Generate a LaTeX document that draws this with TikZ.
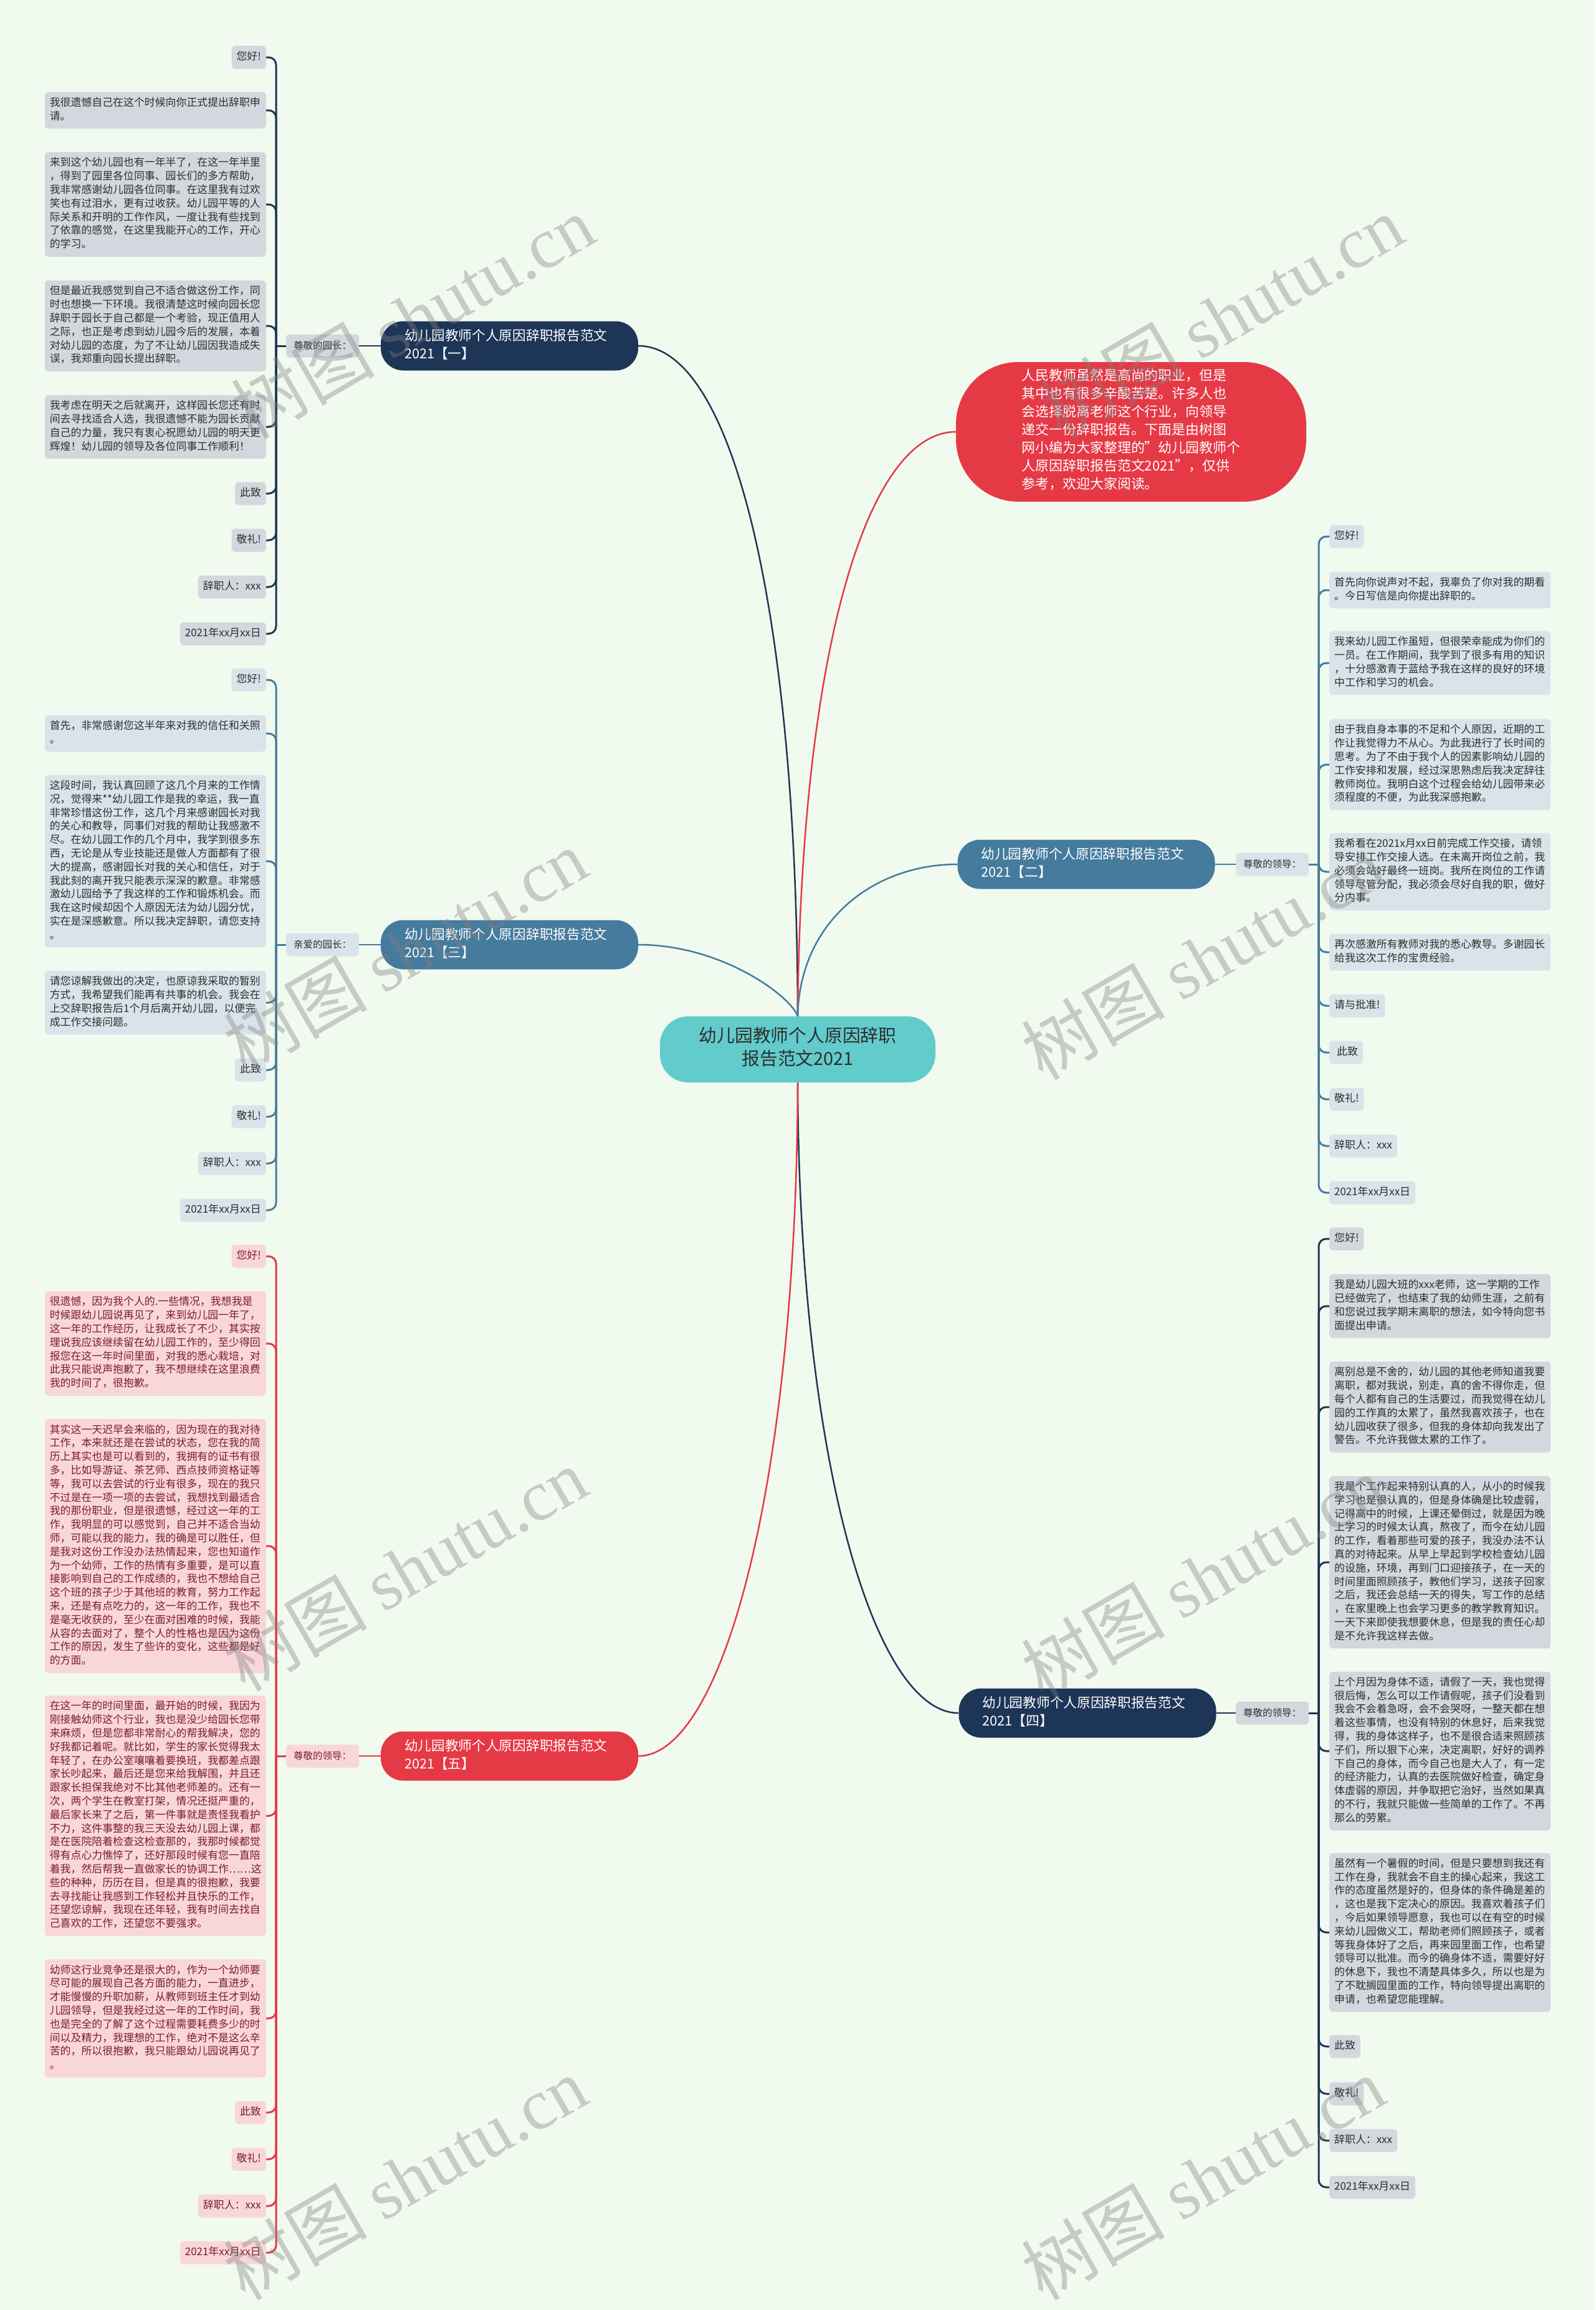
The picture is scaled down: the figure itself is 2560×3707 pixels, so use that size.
\documentclass[tikz,border=0pt]{standalone}
\usepackage{fontspec}
\setmainfont{Noto Sans CJK SC}
\newfontfamily\wmfont{Liberation Serif}
\definecolor{bgc}{HTML}{F1FAEE}
\definecolor{navy}{HTML}{1D3557}
\definecolor{steel}{HTML}{457B9D}
\definecolor{redc}{HTML}{E63946}
\definecolor{tealc}{HTML}{62CBCB}
\definecolor{leafgray}{HTML}{D3D8DF}
\definecolor{leafblue}{HTML}{D9E3EA}
\definecolor{leafpink}{HTML}{F9D6DA}
\definecolor{txt}{HTML}{2E2E2E}
\definecolor{maroonc}{HTML}{7A1E2A}
\begin{document}
\begin{tikzpicture}[x=1pt,y=-1pt,
 leaf/.style={rounded corners=6, inner xsep=8, inner ysep=7.6, align=left,
   font=\fontsize{16.9}{21.8}\selectfont, execute at begin node=\strut,
   execute at end node=\strut, text=txt},
 widebox/.style={text width=339},
 lleaf/.style={leaf, anchor=east},
 rleaf/.style={leaf, anchor=west},
 ga/.style={fill=leafgray},
 gb/.style={fill=leafblue},
 gp/.style={fill=leafpink, text=maroonc},
 spn/.style={draw=navy, line width=3, rounded corners=12},
 sps/.style={draw=steel, line width=3, rounded corners=12},
 spr/.style={draw=redc, line width=3, rounded corners=12},
 mainn/.style={draw=navy, line width=2.5},
 mains/.style={draw=steel, line width=2.5},
 mainr/.style={draw=redc, line width=2.5},
 brbox/.style={text=white, rounded corners=36, text width=337, inner xsep=38,
   inner ysep=10.5, align=left, font=\fontsize{21.7}{29}\selectfont,
   execute at begin node=\strut, execute at end node=\strut},
 labbox/.style={rounded corners=5, inner xsep=12, inner ysep=0, minimum height=37,
   font=\fontsize{15.5}{19}\selectfont, text=txt},
 centerbox/.style={fill=tealc, text=txt, rounded corners=45, minimum width=442,
   minimum height=106, align=center, inner sep=0,
   font=\fontsize{28.8}{37}\selectfont, execute at begin node=\strut,
   execute at end node=\strut},
 introbox/.style={fill=redc, text=white, rounded corners=100, minimum width=562,
   minimum height=224, align=left, inner sep=0,
   font=\fontsize{21.9}{29}\selectfont, execute at begin node=\strut,
   execute at end node=\strut},
 wm/.style={text=gray, text opacity=0.38, rotate=30, font=\fontsize{115}{120}\selectfont}
]
\useasboundingbox (0,0) rectangle (2560,3707);
\fill[bgc] (0,0) rectangle (2560,3707);

% ---------- center, intro, branches ----------
\node[centerbox] (c) at (1280,1684) {幼儿园教师个人原因辞职\\报告范文2021};
\node[introbox] (intro) at (1815,693) {人民教师虽然是高尚的职业，但是\\其中也有很多辛酸苦楚。许多人也\\会选择脱离老师这个行业，向领导\\递交一份辞职报告。下面是由树图\\网小编为大家整理的"幼儿园教师个\\人原因辞职报告范文2021"，仅供\\参考，欢迎大家阅读。};
\node[brbox, fill=navy] (br1) at (817.5,555) {幼儿园教师个人原因辞职报告范文\\2021【一】};
\node[brbox, fill=steel] (br2) at (1743,1387) {幼儿园教师个人原因辞职报告范文\\2021【二】};
\node[brbox, fill=steel] (br3) at (817.5,1516) {幼儿园教师个人原因辞职报告范文\\2021【三】};
\node[brbox, fill=navy] (br4) at (1745,2749) {幼儿园教师个人原因辞职报告范文\\2021【四】};
\node[brbox, fill=redc] (br5) at (817.5,2818) {幼儿园教师个人原因辞职报告范文\\2021【五】};

\node[labbox, fill=leafgray, anchor=west] (lab1) at (459,555) {尊敬的园长：};
\node[labbox, fill=leafblue, anchor=west] (lab2) at (1983,1387) {尊敬的领导：};
\node[labbox, fill=leafblue, anchor=west] (lab3) at (459,1516) {亲爱的园长：};
\node[labbox, fill=leafgray, anchor=west] (lab4) at (1983,2749) {尊敬的领导：};
\node[labbox, fill=leafpink, text=maroonc, anchor=west] (lab5) at (459,2818) {尊敬的领导：};

\coordinate (s1) at (443,555);
\coordinate (s2) at (2116,1387);
\coordinate (s3) at (443,1516);
\coordinate (s4) at (2116,2749);
\coordinate (s5) at (443,2818);

% ---------- main connectors ----------
\draw[mainn] (br1.east) .. controls (1180,555) and (1279,1000) .. (c.north);
\draw[mainr] (intro.west) .. controls (1390,693) and (1285,1050) .. (c.north);
\draw[mains] (br2.west) .. controls (1400,1387) and (1283,1480) .. (c.north);
\draw[mains] (br3.east) .. controls (1160,1516) and (1270,1600) .. (c.north);
\draw[mainn] (c.south) .. controls (1282,2330) and (1400,2749) .. (br4.west);
\draw[mainr] (c.south) .. controls (1278,2380) and (1160,2818) .. (br5.east);

\draw[mainn] (br1.west) -- (lab1.east);
\draw[mains] (br2.east) -- (lab2.west);
\draw[mains] (br3.west) -- (lab3.east);
\draw[mainn] (br4.east) -- (lab4.west);
\draw[mainr] (br5.west) -- (lab5.east);
\draw[spn] (lab1.west) -- (s1);
\draw[sps] (lab2.east) -- (s2);
\draw[sps] (lab3.west) -- (s3);
\draw[spn] (lab4.east) -- (s4);
\draw[spr] (lab5.west) -- (s5);

% ---------- branch 1 leaves ----------
\node[lleaf,ga] (a1) at (427,92) {您好!};
\node[lleaf,ga,widebox] (a2) at (427,177) {我很遗憾自己在这个时候向你正式提出辞职申\\请。};
\node[lleaf,ga,widebox] (a3) at (427,328) {来到这个幼儿园也有一年半了，在这一年半里\\，得到了园里各位同事、园长们的多方帮助，\\我非常感谢幼儿园各位同事。在这里我有过欢\\笑也有过泪水，更有过收获。幼儿园平等的人\\际关系和开明的工作作风，一度让我有些找到\\了依靠的感觉，在这里我能开心的工作，开心\\的学习。};
\node[lleaf,ga,widebox] (a4) at (427,523) {但是最近我感觉到自己不适合做这份工作，同\\时也想换一下环境。我很清楚这时候向园长您\\辞职于园长于自己都是一个考验，现正值用人\\之际，也正是考虑到幼儿园今后的发展，本着\\对幼儿园的态度，为了不让幼儿园因我造成失\\误，我郑重向园长提出辞职。};
\node[lleaf,ga,widebox] (a5) at (427,685) {我考虑在明天之后就离开，这样园长您还有时\\间去寻找适合人选，我很遗憾不能为园长贡献\\自己的力量，我只有衷心祝愿幼儿园的明天更\\辉煌！幼儿园的领导及各位同事工作顺利！};
\node[lleaf,ga] (a6) at (427,792) {此致};
\node[lleaf,ga] (a7) at (427,867) {敬礼!};
\node[lleaf,ga] (a8) at (427,942) {辞职人：xxx};
\node[lleaf,ga] (a9) at (427,1017) {2021年xx月xx日};
\foreach \n in {a1,a2,a3,a4,a5,a6,a7,a8,a9} \draw[spn] (\n.east) -| (s1);

% ---------- branch 3 leaves ----------
\node[lleaf,gb] (c1) at (427,1091) {您好!};
\node[lleaf,gb,widebox] (c2) at (427,1177) {首先，非常感谢您这半年来对我的信任和关照\\。};
\node[lleaf,gb,widebox] (c3) at (427,1382) {这段时间，我认真回顾了这几个月来的工作情\\况，觉得来**幼儿园工作是我的幸运，我一直\\非常珍惜这份工作，这几个月来感谢园长对我\\的关心和教导，同事们对我的帮助让我感激不\\尽。在幼儿园工作的几个月中，我学到很多东\\西，无论是从专业技能还是做人方面都有了很\\大的提高，感谢园长对我的关心和信任，对于\\我此刻的离开我只能表示深深的歉意。非常感\\激幼儿园给予了我这样的工作和锻炼机会。而\\我在这时候却因个人原因无法为幼儿园分忧，\\实在是深感歉意。所以我决定辞职，请您支持\\。};
\node[lleaf,gb,widebox] (c4) at (427,1609) {请您谅解我做出的决定，也原谅我采取的暂别\\方式，我希望我们能再有共事的机会。我会在\\上交辞职报告后1个月后离开幼儿园，以便完\\成工作交接问题。};
\node[lleaf,gb] (c5) at (427,1717) {此致};
\node[lleaf,gb] (c6) at (427,1792) {敬礼!};
\node[lleaf,gb] (c7) at (427,1867) {辞职人：xxx};
\node[lleaf,gb] (c8) at (427,1942) {2021年xx月xx日};
\foreach \n in {c1,c2,c3,c4,c5,c6,c7,c8} \draw[sps] (\n.east) -| (s3);

% ---------- branch 5 leaves ----------
\node[lleaf,gp] (e1) at (427,2016) {您好!};
\node[lleaf,gp,widebox] (e2) at (427,2156) {很遗憾，因为我个人的.一些情况，我想我是\\时候跟幼儿园说再见了，来到幼儿园一年了，\\这一年的工作经历，让我成长了不少，其实按\\理说我应该继续留在幼儿园工作的，至少得回\\报您在这一年时间里面，对我的悉心栽培，对\\此我只能说声抱歉了，我不想继续在这里浪费\\我的时间了，很抱歉。};
\node[lleaf,gp,widebox] (e3) at (427,2481) {其实这一天迟早会来临的，因为现在的我对待\\工作，本来就还是在尝试的状态，您在我的简\\历上其实也是可以看到的，我拥有的证书有很\\多，比如导游证、茶艺师、西点技师资格证等\\等，我可以去尝试的行业有很多，现在的我只\\不过是在一项一项的去尝试，我想找到最适合\\我的那份职业，但是很遗憾，经过这一年的工\\作，我明显的可以感觉到，自己并不适合当幼\\师，可能以我的能力，我的确是可以胜任，但\\是我对这份工作没办法热情起来，您也知道作\\为一个幼师，工作的热情有多重要，是可以直\\接影响到自己的工作成绩的，我也不想给自己\\这个班的孩子少于其他班的教育，努力工作起\\来，还是有点吃力的，这一年的工作，我也不\\是毫无收获的，至少在面对困难的时候，我能\\从容的去面对了，整个人的性格也是因为这份\\工作的原因，发生了些许的变化，这些都是好\\的方面。};
\node[lleaf,gp,widebox] (e4) at (427,2914) {在这一年的时间里面，最开始的时候，我因为\\刚接触幼师这个行业，我也是没少给园长您带\\来麻烦，但是您都非常耐心的帮我解决，您的\\好我都记着呢。就比如，学生的家长觉得我太\\年轻了，在办公室嚷嚷着要换班，我都差点跟\\家长吵起来，最后还是您来给我解围，并且还\\跟家长担保我绝对不比其他老师差的。还有一\\次，两个学生在教室打架，情况还挺严重的，\\最后家长来了之后，第一件事就是责怪我看护\\不力，这件事整的我三天没去幼儿园上课，都\\是在医院陪着检查这检查那的，我那时候都觉\\得有点心力憔悴了，还好那段时候有您一直陪\\着我，然后帮我一直做家长的协调工作……这\\些的种种，历历在目，但是真的很抱歉，我要\\去寻找能让我感到工作轻松并且快乐的工作，\\还望您谅解，我现在还年轻，我有时间去找自\\己喜欢的工作，还望您不要强求。};
\node[lleaf,gp,widebox] (e5) at (427,3239) {幼师这行业竞争还是很大的，作为一个幼师要\\尽可能的展现自己各方面的能力，一直进步，\\才能慢慢的升职加薪，从教师到班主任才到幼\\儿园领导，但是我经过这一年的工作时间，我\\也是完全的了解了这个过程需要耗费多少的时\\间以及精力，我理想的工作，绝对不是这么辛\\苦的，所以很抱歉，我只能跟幼儿园说再见了\\。};
\node[lleaf,gp] (e6) at (427,3390) {此致};
\node[lleaf,gp] (e7) at (427,3465) {敬礼!};
\node[lleaf,gp] (e8) at (427,3540) {辞职人：xxx};
\node[lleaf,gp] (e9) at (427,3615) {2021年xx月xx日};
\foreach \n in {e1,e2,e3,e4,e5,e6,e7,e8,e9} \draw[spr] (\n.east) -| (s5);

% ---------- branch 2 leaves ----------
\node[rleaf,gb] (b1) at (2133,861) {您好!};
\node[rleaf,gb,widebox] (b2) at (2133,947) {首先向你说声对不起，我辜负了你对我的期看\\。今日写信是向你提出辞职的。};
\node[rleaf,gb,widebox] (b3) at (2133,1064) {我来幼儿园工作虽短，但很荣幸能成为你们的\\一员。在工作期间，我学到了很多有用的知识\\，十分感激青于蓝给予我在这样的良好的环境\\中工作和学习的机会。};
\node[rleaf,gb,widebox] (b4) at (2133,1227) {由于我自身本事的不足和个人原因，近期的工\\作让我觉得力不从心。为此我进行了长时间的\\思考。为了不由于我个人的因素影响幼儿园的\\工作安排和发展，经过深思熟虑后我决定辞往\\教师岗位。我明白这个过程会给幼儿园带来必\\须程度的不便，为此我深感抱歉。};
\node[rleaf,gb,widebox] (b5) at (2133,1399) {我希看在2021x月xx日前完成工作交接，请领\\导安排工作交接人选。在未离开岗位之前，我\\必须会站好最终一班岗。我所在岗位的工作请\\领导尽管分配，我必须会尽好自我的职，做好\\分内事。};
\node[rleaf,gb,widebox] (b6) at (2133,1528) {再次感激所有教师对我的悉心教导。多谢园长\\给我这次工作的宝贵经验。};
\node[rleaf,gb] (b7) at (2133,1614) {请与批准!};
\node[rleaf,gb] (b8) at (2133,1689) {\hspace{4pt}此致};
\node[rleaf,gb] (b9) at (2133,1764) {敬礼!};
\node[rleaf,gb] (b10) at (2133,1839) {辞职人：xxx};
\node[rleaf,gb] (b11) at (2133,1914) {2021年xx月xx日};
\foreach \n in {b1,b2,b3,b4,b5,b6,b7,b8,b9,b10,b11} \draw[sps] (\n.west) -| (s2);

% ---------- branch 4 leaves ----------
\node[rleaf,ga] (d1) at (2133,1988) {您好!};
\node[rleaf,ga,widebox] (d2) at (2133,2096) {我是幼儿园大班的xxx老师，这一学期的工作\\已经做完了，也结束了我的幼师生涯，之前有\\和您说过我学期末离职的想法，如今特向您书\\面提出申请。};
\node[rleaf,ga,widebox] (d3) at (2133,2258) {离别总是不舍的，幼儿园的其他老师知道我要\\离职，都对我说，别走，真的舍不得你走，但\\每个人都有自己的生活要过，而我觉得在幼儿\\园的工作真的太累了，虽然我喜欢孩子，也在\\幼儿园收获了很多，但我的身体却向我发出了\\警告。不允许我做太累的工作了。};
\node[rleaf,ga,widebox] (d4) at (2133,2507) {我是个工作起来特别认真的人，从小的时候我\\学习也是很认真的，但是身体确是比较虚弱，\\记得高中的时候，上课还晕倒过，就是因为晚\\上学习的时候太认真，熬夜了，而今在幼儿园\\的工作，看着那些可爱的孩子，我没办法不认\\真的对待起来。从早上早起到学校检查幼儿园\\的设施，环境，再到门口迎接孩子，在一天的\\时间里面照顾孩子，教他们学习，送孩子回家\\之后，我还会总结一天的得失，写工作的总结\\，在家里晚上也会学习更多的教学教育知识。\\一天下来即使我想要休息，但是我的责任心却\\是不允许我这样去做。};
\node[rleaf,ga,widebox] (d5) at (2133,2810) {上个月因为身体不适，请假了一天，我也觉得\\很后悔，怎么可以工作请假呢，孩子们没看到\\我会不会着急呀，会不会哭呀，一整天都在想\\着这些事情，也没有特别的休息好，后来我觉\\得，我的身体这样子，也不是很合适来照顾孩\\子们，所以狠下心来，决定离职，好好的调养\\下自己的身体，而今自己也是大人了，有一定\\的经济能力，认真的去医院做好检查，确定身\\体虚弱的原因，并争取把它治好，当然如果真\\的不行，我就只能做一些简单的工作了。不再\\那么的劳累。};
\node[rleaf,ga,widebox] (d6) at (2133,3101) {虽然有一个暑假的时间，但是只要想到我还有\\工作在身，我就会不自主的操心起来，我这工\\作的态度虽然是好的，但身体的条件确是差的\\，这也是我下定决心的原因。我喜欢着孩子们\\，今后如果领导愿意，我也可以在有空的时候\\来幼儿园做义工，帮助老师们照顾孩子，或者\\等我身体好了之后，再来园里面工作，也希望\\领导可以批准。而今的确身体不适，需要好好\\的休息下，我也不清楚具体多久，所以也是为\\了不耽搁园里面的工作，特向领导提出离职的\\申请，也希望您能理解。};
\node[rleaf,ga] (d7) at (2133,3284) {此致};
\node[rleaf,ga] (d8) at (2133,3360) {敬礼!};
\node[rleaf,ga] (d9) at (2133,3435) {辞职人：xxx};
\node[rleaf,ga] (d10) at (2133,3510) {2021年xx月xx日};
\foreach \n in {d1,d2,d3,d4,d5,d6,d7,d8,d9,d10} \draw[spn] (\n.west) -| (s4);

% ---------- watermarks ----------
\node[wm] (w1) at (662,508) {树图 {\wmfont shutu.cn}};
\node[wm] (w2) at (1960,508) {树图 {\wmfont shutu.cn}};
\node[wm] (w3) at (650,1525) {树图 {\wmfont shutu.cn}};
\node[wm] (w4) at (1930,1537) {树图 {\wmfont shutu.cn}};
\node[wm] (w5) at (650,2518) {树图 {\wmfont shutu.cn}};
\node[wm] (w6) at (1930,2530) {树图 {\wmfont shutu.cn}};
\node[wm] (w7) at (650,3495) {树图 {\wmfont shutu.cn}};
\node[wm] (w8) at (1930,3495) {树图 {\wmfont shutu.cn}};
\end{tikzpicture}
\end{document}
